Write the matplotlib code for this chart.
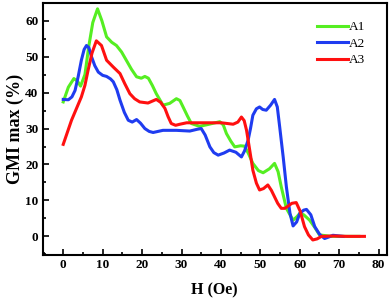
import numpy as np
import matplotlib
matplotlib.use("Agg")
import matplotlib.pyplot as plt
from matplotlib.ticker import MultipleLocator

plt.rcParams['font.family'] = ['Liberation Serif', 'DejaVu Serif']

# values
h_a1 = [0, 1.3, 2.7, 3.6, 4.4, 5.5, 6.5, 7.5, 8.7, 9.8, 11, 12.3, 13.5, 14.8, 16, 17.3,
        18.6, 19.8, 20.7, 21.6, 22.6, 23.6, 25.3, 27, 28.7, 29.6, 30.4, 31.5, 32.5,
        34.6, 37, 39.7, 40.6, 41.4, 42.5, 43.5, 45, 46, 47, 48.1, 49.5, 50.7,
        52.3, 53.6, 54.5, 55.3, 56.6, 58.3, 59.3, 60, 61, 62.5, 63.8, 65, 68, 72, 75]
gmi_a1 = [37.4, 41.5, 43.9, 43.2, 41.8, 45, 53, 59.5, 63.3, 60, 55.5, 54, 53.1, 51.3,
          49, 46.5, 44.4, 44, 44.5, 44, 42, 39.7, 36.5, 37, 38.3, 37.8, 36, 33.5, 31.4,
          30.6, 31.2, 31.9, 31, 28.6, 26.5, 24.9, 25.2, 25.1, 23, 20.3, 18.3, 17.7,
          18.8, 20.3, 18, 13.8, 7.8, 4.5, 5.5, 6.4, 6, 4.5, 2.5, 0.4, 0, 0, 0]

h_a2 = [0, 1.3, 2.2, 3, 3.8, 4.6, 5.3, 5.9, 6.5, 7.2, 8, 8.9, 10, 11, 12, 12.7, 13.6,
        14.4, 15.5, 16.5, 17.5, 18.6, 19.6, 20.7, 21.8, 22.8, 25.3, 28.7, 32.1, 34,
        35, 36, 37.2, 38.2, 39.3, 40.8, 42.2, 43.8, 45.2, 46, 46.9, 47.5, 48.1, 49,
        49.8, 50.6, 51.5, 52.6, 53.6, 54.3, 54.9, 55.8, 56.6, 57.5, 58.3, 59.2, 60,
        61, 61.7, 62.8, 63.8, 65, 66.3, 67.3, 68.4, 71]
gmi_a2 = [38.1, 38, 38.8, 40.6, 44.5, 49, 52, 53.1, 52.5, 49.9, 47.5, 45.7, 44.8, 44.5,
          43.8, 43, 40.8, 37.9, 34.5, 32.3, 31.8, 32.5, 31.5, 30, 29.2, 28.9, 29.5,
          29.5, 29.3, 29.8, 30, 28.2, 24.9, 23.3, 22.6, 23.2, 24, 23.4, 22.1, 23.8,
          26.8, 30, 33.7, 35.5, 36, 35.3, 35.1, 36.5, 38.1, 36, 30.5, 22, 13.8, 6.5,
          2.9, 4, 6.4, 7.3, 7.5, 6, 2.7, 0.6, -0.6, -0.2, 0.3, 0]

h_a3 = [0, 2.1, 4.6, 5.5, 6.3, 7.3, 8.4, 9.7, 11, 12.7, 14.4, 15.6, 16.9, 18.1, 19.4,
        21.5, 23.6, 24.7, 25.8, 26.6, 27.4, 28.5, 29.6, 31.3, 36.3, 40.1, 43.1, 44.3,
        45.2, 45.9, 46.5, 47.3, 48.1, 49, 49.8, 50.8, 51.9, 52.8, 53.6, 54.4, 55.3,
        56.2, 57, 58, 59.1, 60.1, 61.2, 62.2, 63.3, 64.4, 65.5, 68.4, 72, 76.4]
gmi_a3 = [25.6, 32.3, 38.8, 42, 46.2, 51, 54.4, 53.1, 49, 47.1, 45.3, 42.5, 39.7, 38.3,
          37.4, 37.1, 38.1, 37.3, 35.6, 33.3, 31.4, 30.9, 31.2, 31.6, 31.6, 31.6, 31.2,
          31.8, 33.2, 32.2, 29.5, 24, 18.4, 14.8, 12.9, 13.3, 14.3, 12.8, 11, 9.2, 7.8,
          7.8, 8.4, 9.2, 9.4, 7, 2.7, 0.4, -1, -0.7, 0, 0.1, 0, 0]

series = [("A1", h_a1, gmi_a1, "#55ee22"),
          ("A2", h_a2, gmi_a2, "#1f3cf0"),
          ("A3", h_a3, gmi_a3, "#ff1010")]

fig = plt.figure(figsize=(3.92, 3.04), dpi=100)
ax = fig.add_axes([0.109, 0.161, 0.877, 0.83])

for name, h, g, c in series:
    ax.plot(h, g, color=c, linewidth=2.2, label=name, solid_joinstyle="round")

ax.set_xlim(-5.2, 82)
ax.set_ylim(-5.2, 65)
ax.xaxis.set_major_locator(MultipleLocator(10))
ax.xaxis.set_minor_locator(MultipleLocator(5))
ax.yaxis.set_major_locator(MultipleLocator(10))
ax.yaxis.set_minor_locator(MultipleLocator(5))
ax.tick_params(which="both", direction="in", top=False, right=False, width=1.2,
               labelsize=9.5, pad=3)
ax.tick_params(which="major", length=4)
ax.tick_params(which="minor", length=2.5)
for lab in ax.get_xticklabels() + ax.get_yticklabels():
    lab.set_fontweight("bold")
for sp in ax.spines.values():
    sp.set_linewidth(1.5)

ax.set_xlabel("H (Oe)", fontsize=11.5, fontweight="bold", labelpad=8)
ax.set_ylabel("GMI max (%)", fontsize=13, fontweight="bold", labelpad=1)

ax.legend(loc="upper left", frameon=False, fontsize=9.5, handlelength=2.35,
          handletextpad=0.1, labelspacing=0.33, borderpad=0, borderaxespad=0,
          bbox_to_anchor=(317 / 392, 1 - 21 / 304), bbox_transform=fig.transFigure)

fig.savefig("out.png", dpi=100)
